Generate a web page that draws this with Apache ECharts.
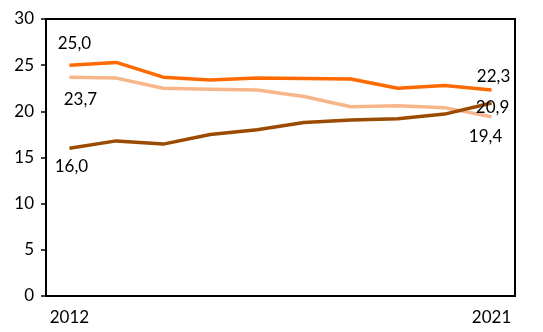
<!DOCTYPE html>
<html><head><meta charset="utf-8">
<script src="https://cdn.jsdelivr.net/npm/echarts@6/dist/echarts.min.js"></script>
<style>html,body{margin:0;padding:0;background:#fff}#c{width:543px;height:332px}</style>
</head><body><div id="c"></div>
<script>
const years = ['2012','2013','2014','2015','2016','2017','2018','2019','2020','2021'];
const seriesOrange = [25.0, 25.3, 23.7, 23.4, 23.6, 23.55, 23.5, 22.5, 22.8, 22.3];
const seriesPeach  = [23.7, 23.6, 22.5, 22.4, 22.3, 21.6, 20.5, 20.6, 20.4, 19.4];
const seriesBrown  = [16.0, 16.8, 16.45, 17.5, 18.0, 18.8, 19.05, 19.2, 19.7, 20.9];
const yTicks = [0, 5, 10, 15, 20, 25, 30];

const FONT = 'Lato, "Open Sans", sans-serif';
function fmt(v){ return v.toFixed(1).replace('.', ','); }
function build(vals, firstLbl, lastLbl){
  return vals.map((v,i)=>{
    const item = {value: v};
    const cfg = i===0 ? firstLbl : (i===vals.length-1 ? lastLbl : null);
    if (cfg) {
      item.label = {show:true, position:cfg.pos, offset:cfg.off, formatter: fmt(v),
        fontFamily: FONT, fontSize: 17, color:'#000', opacity:1};
    }
    return item;
  });
}
function line(name, color, data){
  return {name, type:'line', data, symbol:'circle', symbolSize:1, showSymbol:true,
    itemStyle:{color:'rgba(0,0,0,0)', borderWidth:0}, lineStyle:{color, width:3.5},
    label:{show:false}, emphasis:{disabled:true}, z: 3};
}
const chart = echarts.init(document.getElementById('c'), null, {renderer:'canvas'});
chart.setOption({
  animation:false,
  grid:{left:46, right:28, top:19, bottom:36, show:true, borderColor:'#000', borderWidth:2},
  xAxis:{type:'category', data:years, boundaryGap:true,
    axisLine:{lineStyle:{color:'#000', width:2}}, axisTick:{show:false},
    axisLabel:{interval:0, formatter:(v,i)=> (i===0||i===years.length-1)? v : '',
      fontFamily:FONT, fontSize:17, color:'#000', margin:13}},
  yAxis:{type:'value', min:yTicks[0], max:yTicks[yTicks.length-1], interval:5,
    splitLine:{show:false},
    axisLine:{show:true, lineStyle:{color:'#000', width:2}},
    axisTick:{show:true, length:5, lineStyle:{color:'#000', width:1.5}},
    axisLabel:{fontFamily:FONT, fontSize:17, color:'#000', margin:12}},
  series:[
    line('peach', '#F7B58A', build(seriesPeach, {pos:'bottom', off:[11,8]}, {pos:'bottom', off:[-6,6]})),
    line('brown', '#9A4B00', build(seriesBrown, {pos:'bottom', off:[2,4]}, {pos:'top', off:[1,18]})),
    line('orange', '#FF6A00', build(seriesOrange, {pos:'top', off:[5,-8]}, {pos:'top', off:[2,0]}))
  ]
});
</script></body></html>
